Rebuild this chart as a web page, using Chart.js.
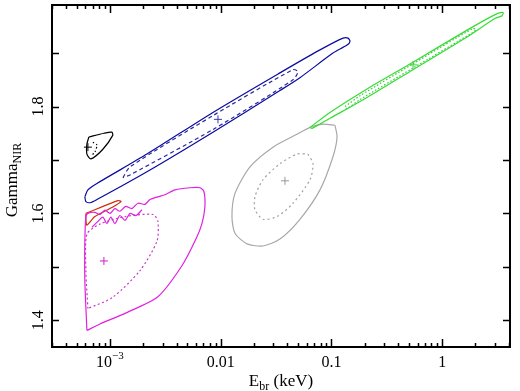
<!DOCTYPE html>
<html>
<head>
<meta charset="utf-8">
<script src="https://cdn.jsdelivr.net/npm/chart.js@4.4.1/dist/chart.umd.min.js"></script>
<style>
  body { margin: 0; background: #fff; }
  #wrap { width: 520px; height: 391px; }
</style>
</head>
<body>
<div id="wrap"><canvas id="contours"></canvas></div>
<script>
// contour outlines as [E_br (keV), Gamma_NIR] pairs
const blueOuter = [[5.94e-4,1.631],[6.33e-4,1.644],[7.63e-4,1.656],[2.16e-3,1.711],[8.52e-3,1.789],[0.0343,1.863],[0.0789,1.906],[0.1274,1.928],[0.1413,1.928],[0.1473,1.922],[0.1384,1.915],[0.1033,1.900],[0.052,1.854],[0.0343,1.830],[8.52e-3,1.752],[2.16e-3,1.678],[7.63e-4,1.626],[6.6e-4,1.620],[6.07e-4,1.622],[5.94e-4,1.631]];
const blueInner = [[1.31e-3,1.667],[1.52e-3,1.687],[8.52e-3,1.783],[0.045,1.869],[0.0499,1.865],[0.045,1.850],[8.52e-3,1.757],[1.52e-3,1.672],[1.31e-3,1.667]];
const greenOuter = [[0.0641,1.761],[0.0971,1.789],[0.210,1.833],[0.546,1.883],[1.68,1.943],[3.01,1.972],[3.55,1.976],[3.48,1.970],[3.01,1.965],[1.68,1.930],[0.546,1.869],[0.210,1.817],[0.0971,1.778],[0.0668,1.759],[0.0641,1.761]];
const greenInner = [[0.1328,1.800],[0.181,1.820],[0.546,1.880],[1.90,1.946],[2.02,1.944],[1.90,1.939],[0.546,1.872],[0.181,1.813],[0.1384,1.796],[0.1328,1.800]];
const grayOuter = [[0.1078,1.765],[0.1125,1.743],[0.1033,1.706],[0.0789,1.644],[0.052,1.589],[0.0343,1.552],[0.0241,1.539],[0.0173,1.543],[0.01346,1.563],[0.01265,1.594],[0.01346,1.637],[0.0184,1.687],[0.0297,1.724],[0.0489,1.748],[0.0641,1.761],[0.084,1.767],[0.1078,1.765]];
const grayInner = [[0.0615,1.711],[0.0682,1.693],[0.0641,1.663],[0.045,1.619],[0.0323,1.594],[0.0241,1.589],[0.0204,1.607],[0.0204,1.631],[0.0241,1.663],[0.0343,1.693],[0.0489,1.711],[0.0615,1.711]];
const magentaOuter = [[6.20e-4,1.381],[5.94e-4,1.474],[5.94e-4,1.548],[6.07e-4,1.594],[6.33e-4,1.600],[7.32e-4,1.602],[8.12e-4,1.598],[9.01e-4,1.606],[1.0e-3,1.600],[1.11e-3,1.609],[1.23e-3,1.604],[1.39e-3,1.613],[1.58e-3,1.609],[1.79e-3,1.619],[2.07e-3,1.617],[2.30e-3,1.626],[2.71e-3,1.631],[3.14e-3,1.635],[3.87e-3,1.644],[5.28e-3,1.648],[6.50e-3,1.648],[7.06e-3,1.641],[7.21e-3,1.613],[6.78e-3,1.581],[5.98e-3,1.552],[4.47e-3,1.502],[2.71e-3,1.444],[1.37e-3,1.413],[8.12e-4,1.393],[6.20e-4,1.381]];
const magentaWave = [[6.88e-4,1.574],[7.80e-4,1.585],[8.64e-4,1.593],[9.39e-4,1.581],[1.02e-3,1.593],[1.11e-3,1.581],[1.23e-3,1.596],[1.37e-3,1.587],[1.52e-3,1.600],[1.72e-3,1.596],[1.95e-3,1.607]];
const magentaInner = [[6.33e-4,1.422],[6.07e-4,1.493],[6.20e-4,1.561],[8.12e-4,1.580],[1.37e-3,1.594],[2.45e-3,1.598],[2.71e-3,1.585],[2.66e-3,1.548],[1.87e-3,1.493],[1.06e-3,1.443],[6.33e-4,1.422]];
const redOuter = [[6.07e-4,1.600],[1.18e-3,1.624],[1.26e-3,1.622],[1.04e-3,1.611],[7.32e-4,1.594],[6.20e-4,1.578],[6.07e-4,1.589],[6.07e-4,1.600]];
const blackOuter = [[6.46e-4,1.743],[8.83e-4,1.750],[1.04e-3,1.752],[1.06e-3,1.746],[8.64e-4,1.720],[6.74e-4,1.702],[6.20e-4,1.711],[6.20e-4,1.730],[6.46e-4,1.743]];
const blackInner = [[7.02e-4,1.733],[7.63e-4,1.728],[7.32e-4,1.715],[6.88e-4,1.709]];

// best-fit positions
const bestFits = [
  { e: 9.46e-3, g: 1.776, color: '#3a3aa8' },
  { e: 0.546,   g: 1.878, color: '#44cc44' },
  { e: 0.0381,  g: 1.661, color: '#999999' },
  { e: 8.83e-4, g: 1.511, color: '#cc22cc' },
  { e: 6.33e-4, g: 1.724, color: '#000000' }
];

const xMajor = [1e-3, 0.01, 0.1, 1];
const xLabels = ['10', '0.01', '0.1', '1'];
const yMajor = [1.4, 1.6, 1.8];
const yMinor = [1.5, 1.7, 1.9];

const SERIF = '"Liberation Serif", "Times New Roman", serif';

function toPts(arr) {
  return arr.map(p => ({ x: p[0], y: p[1] }));
}

function contour(arr, color, dash, width) {
  return {
    data: toPts(arr),
    showLine: true,
    borderColor: color,
    borderWidth: width || 1.2,
    borderDash: dash || [],
    pointRadius: 0,
    tension: 0.25,
    fill: false
  };
}

const datasets = [
  contour(blueOuter, '#0a0aa0'),
  contour(blueInner, '#2a2aa0', [4, 3]),
  contour(greenOuter, '#33dd33'),
  contour(greenInner, '#33cc33', [1.5, 2]),
  contour(grayOuter, '#a8a8a8'),
  contour(grayInner, '#a0a0a0', [2, 3]),
  contour(magentaOuter, '#e020e0'),
  contour(magentaWave, '#dd22dd'),
  contour(magentaInner, '#cc33cc', [2, 2.5]),
  contour(redOuter, '#d02a10'),
  contour(blackOuter, '#000000'),
  contour(blackInner, '#000000', [1.5, 2])
];

bestFits.forEach(b => {
  datasets.push({
    data: [{ x: b.e, y: b.g }],
    showLine: false,
    pointStyle: 'cross',
    pointRadius: 4,
    borderColor: b.color,
    borderWidth: 1
  });
});

// frame, inward ticks and labels drawn against the chart scales
const framePlugin = {
  id: 'frame',
  afterDraw(chart) {
    const c = chart.ctx;
    const a = chart.chartArea;
    const xs = chart.scales.x;
    const ys = chart.scales.y;
    c.save();
    c.strokeStyle = '#000';
    c.lineWidth = 2;
    c.strokeRect(a.left, a.top, a.right - a.left, a.bottom - a.top);

    c.lineWidth = 1.5;
    c.beginPath();
    for (let p = -4; p <= 0; p++) {
      for (let k = 1; k <= 9; k++) {
        const v = k * Math.pow(10, p);
        if (v < xs.min || v > xs.max) continue;
        const px = Math.round(xs.getPixelForValue(v)) + 0.5;
        const len = k === 1 ? 8 : 4;
        c.moveTo(px, a.bottom); c.lineTo(px, a.bottom - len);
        c.moveTo(px, a.top); c.lineTo(px, a.top + len);
      }
    }
    yMajor.concat(yMinor).forEach(v => {
      const py = Math.round(ys.getPixelForValue(v)) + 0.5;
      c.moveTo(a.left, py); c.lineTo(a.left + 7, py);
      c.moveTo(a.right, py); c.lineTo(a.right - 7, py);
    });
    c.stroke();

    c.fillStyle = '#000';
    c.textBaseline = 'alphabetic';
    xMajor.forEach((v, i) => {
      const px = xs.getPixelForValue(v);
      c.font = '16px ' + SERIF;
      if (i === 0) {
        c.textAlign = 'left';
        const w = c.measureText('10').width;
        c.font = '11px ' + SERIF;
        const ws = c.measureText('\u22123').width;
        const x0 = px - (w + ws) / 2;
        c.font = '16px ' + SERIF;
        c.fillText('10', x0, 367);
        c.font = '11px ' + SERIF;
        c.fillText('\u22123', x0 + w, 359);
      } else {
        c.textAlign = 'center';
        c.fillText(xLabels[i], px, 367);
      }
    });

    c.font = '16px ' + SERIF;
    yMajor.forEach(v => {
      const py = ys.getPixelForValue(v);
      c.save();
      c.translate(43, py);
      c.rotate(-Math.PI / 2);
      c.textAlign = 'center';
      c.fillText(v.toFixed(1), 0, 0);
      c.restore();
    });

    // axis titles with subscripts
    function subTitle(main, sub, rest, x, y, rotate) {
      c.save();
      c.translate(x, y);
      if (rotate) c.rotate(-Math.PI / 2);
      c.font = '17px ' + SERIF;
      const w1 = c.measureText(main).width;
      const w3 = c.measureText(rest).width;
      c.font = '12px ' + SERIF;
      const w2 = c.measureText(sub).width;
      const x0 = -(w1 + w2 + w3) / 2;
      c.textAlign = 'left';
      c.font = '17px ' + SERIF;
      c.fillText(main, x0, 0);
      c.fillText(rest, x0 + w1 + w2, 0);
      c.font = '12px ' + SERIF;
      c.fillText(sub, x0 + w1, 4);
      c.restore();
    }
    subTitle('E', 'br', ' (keV)', 281, 386, false);
    subTitle('Gamma', 'NIR', '', 17, 180, true);
    c.restore();
  }
};

new Chart(document.getElementById('contours'), {
  type: 'scatter',
  data: { datasets: datasets },
  options: {
    responsive: true,
    maintainAspectRatio: false,
    animation: false,
    layout: { padding: { left: 52, right: 10, top: 2, bottom: 44 } },
    plugins: { legend: { display: false }, tooltip: { enabled: false } },
    scales: {
      x: { type: 'logarithmic', min: 3e-4, max: 4.1, display: false },
      y: { type: 'linear', min: 1.35, max: 1.99, display: false }
    }
  },
  plugins: [framePlugin]
});
</script>
</body>
</html>
